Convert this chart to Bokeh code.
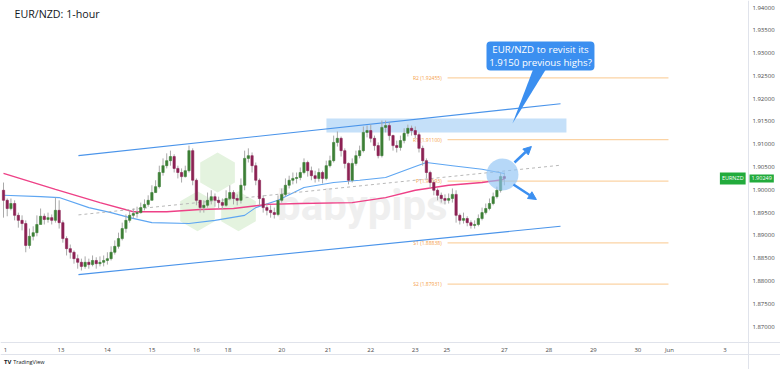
import numpy as np
from bokeh.plotting import figure
from bokeh.models import (Range1d, FixedTicker, PrintfTickFormatter, Label,
                          Arrow, NormalHead, BoxAnnotation, Span)
from bokeh.core.properties import value
from bokeh.embed import file_html
from bokeh.resources import INLINE

# ---------------- data (2-hour sampled EUR/NZD candles) ----------------
closes = [1.8977, 1.8959, 1.8970, 1.8944, 1.8933, 1.8926, 1.8878, 1.8898, 1.8906, 1.8924,
          1.8942, 1.8935, 1.8939, 1.8933, 1.8955, 1.8928, 1.8893, 1.8871, 1.8863, 1.8849,
          1.8841, 1.8832, 1.8841, 1.8836, 1.8845, 1.8838, 1.8841, 1.8845, 1.8849, 1.8863,
          1.8876, 1.8893, 1.8915, 1.8933, 1.8944, 1.8948, 1.8950, 1.8961, 1.8968, 1.8977,
          1.8994, 1.9007, 1.9038, 1.9053, 1.9064, 1.9073, 1.9047, 1.9038, 1.9029, 1.9042,
          1.9086, 1.9021, 1.8977, 1.8961, 1.8966, 1.8977, 1.8985, 1.8977, 1.8972, 1.8966,
          1.8981, 1.8994, 1.8981, 1.8977, 1.9010, 1.9069, 1.9075, 1.9053, 1.9021, 1.8981,
          1.8961, 1.8955, 1.8950, 1.8946, 1.8977, 1.8990, 1.9010, 1.9021, 1.9025, 1.9027,
          1.9038, 1.9060, 1.9042, 1.9031, 1.9025, 1.9038, 1.9025, 1.9053, 1.9064, 1.9104,
          1.9113, 1.9086, 1.9058, 1.9021, 1.9058, 1.9075, 1.9086, 1.9126, 1.9130, 1.9113,
          1.9097, 1.9075, 1.9137, 1.9141, 1.9119, 1.9097, 1.9093, 1.9108, 1.9124, 1.9135,
          1.9130, 1.9121, 1.9091, 1.9064, 1.9038, 1.9016, 1.8999, 1.8988, 1.8981, 1.8977,
          1.8981, 1.8990, 1.8944, 1.8933, 1.8937, 1.8928, 1.8922, 1.8924, 1.8937, 1.8950,
          1.8959, 1.8970, 1.8985, 1.8999, 1.9029, 1.90249]
highs = [1.9016, 1.8981, 1.8981, 1.8977, 1.8950, 1.8944, 1.8933, 1.8915, 1.8920, 1.8944,
         1.8959, 1.8948, 1.8950, 1.8946, 1.8983, 1.8977, 1.8933, 1.8898, 1.8880, 1.8867,
         1.8858, 1.8849, 1.8854, 1.8849, 1.8856, 1.8852, 1.8854, 1.8856, 1.8863, 1.8876,
         1.8889, 1.8906, 1.8928, 1.8946, 1.8955, 1.8959, 1.8963, 1.8972, 1.8979, 1.8988,
         1.9010, 1.9021, 1.9053, 1.9069, 1.9080, 1.9086, 1.9078, 1.9053, 1.9047, 1.9053,
         1.9097, 1.9091, 1.9025, 1.8977, 1.8977, 1.8994, 1.8999, 1.8992, 1.8985, 1.8981,
         1.8999, 1.9010, 1.8999, 1.8990, 1.9025, 1.9086, 1.9091, 1.9082, 1.9060, 1.9025,
         1.8988, 1.8970, 1.8966, 1.8961, 1.8988, 1.9003, 1.9025, 1.9031, 1.9038, 1.9038,
         1.9049, 1.9069, 1.9064, 1.9051, 1.9042, 1.9047, 1.9042, 1.9064, 1.9075, 1.9119,
         1.9128, 1.9117, 1.9091, 1.9060, 1.9069, 1.9086, 1.9097, 1.9139, 1.9141, 1.9143,
         1.9119, 1.9104, 1.9152, 1.9152, 1.9148, 1.9121, 1.9108, 1.9119, 1.9135, 1.9143,
         1.9141, 1.9139, 1.9126, 1.9097, 1.9069, 1.9042, 1.9021, 1.9003, 1.8994, 1.8990,
         1.8992, 1.9003, 1.8999, 1.8948, 1.8950, 1.8942, 1.8933, 1.8933, 1.8946, 1.8961,
         1.8970, 1.8981, 1.8994, 1.9007, 1.9038, 1.9038]
lows = [1.8939, 1.8942, 1.8955, 1.8933, 1.8917, 1.8911, 1.8863, 1.8871, 1.8889, 1.8898,
        1.8928, 1.8924, 1.8928, 1.8924, 1.8928, 1.8915, 1.8884, 1.8856, 1.8849, 1.8838,
        1.8827, 1.8823, 1.8827, 1.8827, 1.8832, 1.8827, 1.8832, 1.8832, 1.8836, 1.8845,
        1.8858, 1.8871, 1.8889, 1.8906, 1.8928, 1.8937, 1.8939, 1.8948, 1.8955, 1.8963,
        1.8977, 1.8994, 1.9003, 1.9031, 1.9047, 1.9053, 1.9038, 1.9025, 1.9016, 1.9027,
        1.9038, 1.9010, 1.8966, 1.8950, 1.8950, 1.8961, 1.8968, 1.8963, 1.8959, 1.8957,
        1.8963, 1.8977, 1.8968, 1.8966, 1.8970, 1.8999, 1.9060, 1.9038, 1.9010, 1.8966,
        1.8950, 1.8944, 1.8939, 1.8937, 1.8942, 1.8972, 1.8985, 1.9003, 1.9012, 1.9014,
        1.9021, 1.9034, 1.9029, 1.9021, 1.9016, 1.9018, 1.9014, 1.9021, 1.9049, 1.9060,
        1.9095, 1.9073, 1.9047, 1.9012, 1.9016, 1.9053, 1.9069, 1.9082, 1.9115, 1.9104,
        1.9086, 1.9069, 1.9071, 1.9126, 1.9108, 1.9086, 1.9082, 1.9086, 1.9102, 1.9117,
        1.9119, 1.9113, 1.9082, 1.9053, 1.9025, 1.9003, 1.8988, 1.8977, 1.8972, 1.8968,
        1.8970, 1.8972, 1.8928, 1.8924, 1.8926, 1.8920, 1.8915, 1.8915, 1.8920, 1.8933,
        1.8946, 1.8955, 1.8966, 1.8981, 1.8994, 1.9010]
first_open = 1.8999
hours = list(range(0, 2 * len(closes), 2))          # candle time index (hours)

pink_ma_hours = [0, 28, 52, 70, 88, 106, 124, 142, 160, 188, 206, 222, 240, 258, 270]
pink_ma = [1.9036, 1.9001, 1.8972, 1.8952, 1.8952, 1.8957, 1.8959, 1.8968, 1.8970,
           1.8972, 1.8983, 1.8999, 1.9010, 1.9016, 1.9023]
blue_ma_hours = [0, 20, 30, 46, 58, 68, 80, 100, 114, 130, 136, 148, 162, 178, 192, 206,
                 222, 228, 242, 258, 270]
blue_ma = [1.8988, 1.8985, 1.8983, 1.8961, 1.8950, 1.8939, 1.8928, 1.8926, 1.8933, 1.8944,
           1.8961, 1.8977, 1.9005, 1.9016, 1.9021, 1.9027, 1.9051, 1.9060, 1.9053, 1.9045,
           1.9036]

channel_hours = [40.4, 300.3]
upper_channel = [1.9075, 1.9189]
lower_channel = [1.8814, 1.8920]
mid_channel = [1.8945, 1.9054]

pivot_names = ["R2", "R1", "P", "S1", "S2"]
pivot_levels = [1.92455, 1.91100, 1.90193, 1.88838, 1.87931]
pivot_span = [239.4, 358.5]

zone_hours = [174.1, 303.5]
zone_prices = [1.91258, 1.91565]

x_tick_hours = [1, 31, 56, 80, 104, 121, 150, 175, 198, 222, 239, 270, 294, 318, 342, 359, 389]
x_tick_labels = ["1", "13", "14", "15", "16", "18", "20", "21", "22", "23", "25", "27",
                 "28", "29", "30", "Jun", "3"]
y_ticks = [1.870, 1.875, 1.880, 1.885, 1.890, 1.895, 1.900, 1.905, 1.910, 1.915,
           1.920, 1.925, 1.930, 1.935, 1.940]
last_price = 1.90249

callout_lines = ["EUR/NZD to revisit its", "1.9150 previous highs?"]

# chart geometry in data units (time axis / price axis positions)
price_axis_at = 401.6        # hour index where the price scale begins
time_axis_at = 1.86650       # price where the time scale begins
time_axis_bottom = 1.86387

# ---------------- figure ----------------
FONT = "Open Sans"
p = figure(width=780, height=369, output_backend="svg", toolbar_location=None,
           x_range=Range1d(-1.62, 418.9), y_range=Range1d(1.86058, 1.94154),
           y_axis_location="right", min_border_left=0, min_border_top=0,
           min_border_right=0, min_border_bottom=0)
p.grid.visible = False
p.outline_line_color = None
p.background_fill_color = "white"

# watermark
p.scatter(x=[115.4, 104.6, 126.7], y=[1.9038, 1.8953, 1.8953], marker="hex",
          size=40, angle=np.pi / 6, fill_color="#e4f3df", line_color=None)
p.text(x=[147.5], y=[1.8966], text=["babypips"], text_font=value("Roboto"),
       text_font_size="42px", text_font_style="bold", text_color="#efefef",
       text_baseline="alphabetic", text_align="left")

# pivot levels
n = len(pivot_levels)
p.segment(x0=[pivot_span[0]] * n, x1=[pivot_span[1]] * n, y0=pivot_levels,
          y1=pivot_levels, line_color="#fbd3a4", line_width=1.2)
p.text(x=[pivot_span[0] - 3.2] * n, y=pivot_levels,
       text=[f"{nm} ({lv:.5f})" for nm, lv in zip(pivot_names, pivot_levels)],
       text_font=value(FONT), text_font_size="5px", text_color="#f5a04a",
       text_align="right", text_baseline="middle")

# resistance zone
p.quad(left=[zone_hours[0]], right=[zone_hours[1]], bottom=[zone_prices[0]],
       top=[zone_prices[1]], fill_color="#9fcbf5", fill_alpha=0.6, line_color=None)

# moving averages
p.line(blue_ma_hours, blue_ma, line_color="#5ea6f2", line_width=1.1)
p.line(pink_ma_hours, pink_ma, line_color="#ee4187", line_width=1.4)

# channel
p.line(channel_hours, upper_channel, line_color="#4a94ea", line_width=1.1)
p.line(channel_hours, lower_channel, line_color="#4a94ea", line_width=1.1)
p.line(channel_hours, mid_channel, line_color="#b8b8b8", line_width=1,
       line_dash="3 3")

# candles
opens = [first_open] + closes[:-1]
o = np.array(opens); c = np.array(closes); h = np.array(hours)
up = c >= o
p.segment(x0=h, x1=h, y0=lows, y1=highs, line_color="#a9a9a9", line_width=1)
p.vbar(x=h[up], width=1.25, top=c[up], bottom=o[up], fill_color="#3d7f36",
       line_color="#3d7f36", line_width=0.6)
p.vbar(x=h[~up], width=1.25, top=o[~up], bottom=c[~up], fill_color="#8c2254",
       line_color="#8c2254", line_width=0.6)

# highlight circle
p.scatter(x=[269.0], y=[1.90337], size=32, fill_color="#8fc3f5", fill_alpha=0.65,
          line_color=None)

# arrows
for xs, ys, xe, ye in [(275.5, 1.90600, 284.6, 1.90951),
                       (274.9, 1.90117, 287.3, 1.89788)]:
    p.add_layout(Arrow(end=NormalHead(size=8, fill_color="#3b8ff0", line_color="#3b8ff0"),
                       x_start=xs, y_start=ys, x_end=xe, y_end=ye,
                       line_color="#3b8ff0", line_width=2.5))

# callout
p.patch(x=[285.7, 292.7, 274.4], y=[1.92660, 1.92660, 1.91455], fill_color="#3b8ff0",
        line_color=None)
p.add_layout(BoxAnnotation(left=260.4, right=318.6, bottom=1.92618, top=1.93254,
                           fill_color="#3b8ff0", fill_alpha=1, line_color=None,
                           border_radius=4))
for txt, yy in zip(callout_lines, [1.93079, 1.92794]):
    p.add_layout(Label(x=289.5, y=yy, text=txt, text_align="center",
                       text_baseline="middle", text_color="white",
                       text_font=FONT, text_font_size="9.7px"))

# title
p.add_layout(Label(x=5.9, y=1.93847, text="EUR/NZD: 1-hour", text_font=FONT,
                   text_font_size="10.7px", text_color="#131722",
                   text_baseline="middle"))

# frame line under the time scale
p.add_layout(Span(location=time_axis_bottom, dimension="width",
                  line_color="#e0e3eb", line_width=1))

# last price tags
p.add_layout(Label(x=price_axis_at + 0.6, y=last_price, text=f"{last_price:.5f}",
                   text_font=FONT, text_font_size="5.5px", text_color="white",
                   text_baseline="middle", background_fill_color="#22ab3c",
                   padding=2))
p.add_layout(Label(x=price_axis_at - 1.5, y=last_price, text="EURNZD",
                   text_font=FONT, text_font_size="5.5px", text_color="white",
                   text_baseline="middle", text_align="right",
                   background_fill_color="#22ab3c", padding=2))

# TradingView mark
p.add_layout(Label(x=0.3, y=1.86212, text="TV", text_font=FONT, text_font_size="6px",
                   text_font_style="bold", text_color="#131722",
                   text_baseline="middle"))
p.add_layout(Label(x=5.2, y=1.86212, text="TradingView", text_font=FONT,
                   text_font_size="5.5px", text_color="#131722",
                   text_baseline="middle"))

# axes (placed inside the full-size frame, like TradingView's scales)
p.yaxis.fixed_location = price_axis_at
p.xaxis.fixed_location = time_axis_at
p.yaxis.ticker = FixedTicker(ticks=y_ticks)
p.yaxis.formatter = PrintfTickFormatter(format="%.5f")
p.xaxis.ticker = FixedTicker(ticks=x_tick_hours)
p.xaxis.major_label_overrides = dict(zip(x_tick_hours, x_tick_labels))
for ax in (p.xaxis, p.yaxis):
    ax.major_tick_line_color = None
    ax.minor_tick_line_color = None
    ax.major_tick_out = 0
    ax.major_tick_in = 0
    ax.axis_line_color = "#e0e3eb"
    ax.major_label_text_font = FONT
    ax.major_label_text_font_size = "6px"
    ax.major_label_text_color = "#4a4a4a"
p.yaxis.major_label_standoff = 4
p.xaxis.major_label_standoff = 3

open("out.html", "w").write(file_html(p, INLINE))
